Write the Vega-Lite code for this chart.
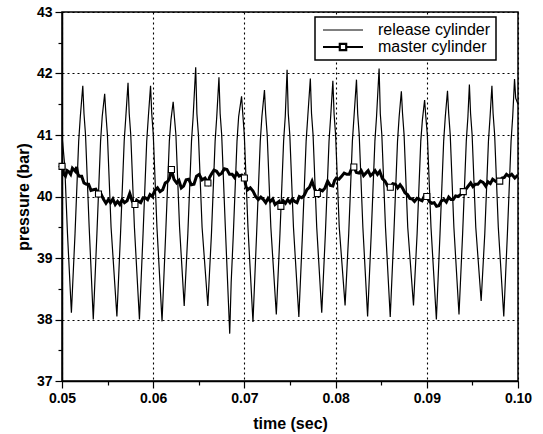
{
  "$schema": "https://vega.github.io/schema/vega-lite/v6.json",
  "autosize": {"type": "none"},
  "padding": {"left": 62, "top": 12, "right": 25, "bottom": 53},
  "width": 456,
  "height": 369,
  "background": "white",
  "config": {
    "view": {"stroke": "black", "strokeWidth": 1.5},
    "font": "Liberation Sans",
    "axis": {
      "domainColor": "black", "domainWidth": 1.5,
      "tickColor": "black", "tickWidth": 1.2,
      "labelFont": "Liberation Sans", "labelFontWeight": "bold", "labelFontSize": 14, "labelColor": "black",
      "titleFont": "Liberation Sans", "titleFontWeight": "bold", "titleFontSize": 16, "titleColor": "black",
      "gridColor": "black", "gridDash": [2, 3], "gridWidth": 1.1
    }
  },
  "datasets": {
    "rel": [
      {"t":0.05,"p":41.0},{"t":0.0503,"p":40.5},{"t":0.0506,"p":39.4},{"t":0.05103,"p":38.11},
      {"t":0.05143,"p":39.4},{"t":0.05183,"p":40.9},{"t":0.05201,"p":41.3},{"t":0.05228,"p":41.8},{"t":0.05241,"p":41.35},{"t":0.05258,"p":41.0},{"t":0.05298,"p":39.5},{"t":0.05343,"p":38.0},
      {"t":0.05383,"p":39.4},{"t":0.05423,"p":40.9},{"t":0.05441,"p":41.3},{"t":0.05468,"p":41.67},{"t":0.05481,"p":41.35},{"t":0.05498,"p":41.0},{"t":0.05538,"p":39.5},{"t":0.05602,"p":38.05},
      {"t":0.05642,"p":39.4},{"t":0.05682,"p":40.9},{"t":0.057,"p":41.3},{"t":0.05724,"p":41.85},{"t":0.05737,"p":41.35},{"t":0.05754,"p":41.0},{"t":0.05794,"p":39.5},{"t":0.05849,"p":38.0},
      {"t":0.05889,"p":39.4},{"t":0.05929,"p":40.9},{"t":0.05947,"p":41.3},{"t":0.05971,"p":41.8},{"t":0.05984,"p":41.35},{"t":0.06001,"p":41.0},{"t":0.06041,"p":39.5},{"t":0.06097,"p":37.97},
      {"t":0.06137,"p":39.4},{"t":0.06177,"p":40.9},{"t":0.06195,"p":41.25},{"t":0.06219,"p":41.54},{"t":0.06232,"p":41.3},{"t":0.06249,"p":41.0},{"t":0.06289,"p":39.5},{"t":0.0634,"p":38.22},
      {"t":0.0638,"p":39.4},{"t":0.0642,"p":40.9},{"t":0.06438,"p":41.3},{"t":0.06466,"p":42.1},{"t":0.06479,"p":41.35},{"t":0.06496,"p":41.0},{"t":0.06536,"p":39.5},{"t":0.06599,"p":38.22},
      {"t":0.06639,"p":39.4},{"t":0.06679,"p":40.9},{"t":0.06697,"p":41.3},{"t":0.06721,"p":41.94},{"t":0.06734,"p":41.35},{"t":0.06751,"p":41.0},{"t":0.06791,"p":39.5},{"t":0.06839,"p":37.77},
      {"t":0.06855,"p":38.6},{"t":0.06879,"p":39.4},{"t":0.06919,"p":40.9},{"t":0.06937,"p":41.3},{"t":0.06969,"p":41.63},{"t":0.06982,"p":41.35},{"t":0.06999,"p":41.0},{"t":0.07039,"p":39.5},{"t":0.07094,"p":37.96},
      {"t":0.07134,"p":39.4},{"t":0.07174,"p":40.9},{"t":0.07192,"p":41.3},{"t":0.0722,"p":41.73},{"t":0.07233,"p":41.35},{"t":0.0725,"p":41.0},{"t":0.0729,"p":39.5},{"t":0.0735,"p":38.08},
      {"t":0.0739,"p":39.4},{"t":0.0743,"p":40.9},{"t":0.07448,"p":41.3},{"t":0.07468,"p":42.06},{"t":0.07481,"p":41.35},{"t":0.07498,"p":41.0},{"t":0.07538,"p":39.5},{"t":0.07597,"p":38.04},
      {"t":0.07637,"p":39.4},{"t":0.07677,"p":40.9},{"t":0.07695,"p":41.3},{"t":0.07723,"p":41.92},{"t":0.07736,"p":41.35},{"t":0.07753,"p":41.0},{"t":0.07793,"p":39.5},{"t":0.07848,"p":38.11},
      {"t":0.07888,"p":39.4},{"t":0.07928,"p":40.9},{"t":0.07946,"p":41.3},{"t":0.0797,"p":41.88},{"t":0.07983,"p":41.35},{"t":0.08,"p":41.0},{"t":0.0804,"p":39.5},{"t":0.08104,"p":38.23},
      {"t":0.08144,"p":39.4},{"t":0.08184,"p":40.9},{"t":0.08202,"p":41.3},{"t":0.08229,"p":41.9},{"t":0.08242,"p":41.35},{"t":0.08259,"p":41.0},{"t":0.08299,"p":39.5},{"t":0.08351,"p":38.05},
      {"t":0.08391,"p":39.4},{"t":0.08431,"p":40.9},{"t":0.08449,"p":41.3},{"t":0.08477,"p":42.08},{"t":0.0849,"p":41.35},{"t":0.08507,"p":41.0},{"t":0.08547,"p":39.5},{"t":0.08599,"p":38.04},
      {"t":0.08639,"p":39.4},{"t":0.08679,"p":40.9},{"t":0.08697,"p":41.3},{"t":0.08721,"p":41.71},{"t":0.08734,"p":41.35},{"t":0.08751,"p":41.0},{"t":0.08791,"p":39.5},{"t":0.08854,"p":38.23},
      {"t":0.08894,"p":39.4},{"t":0.08934,"p":40.9},{"t":0.08952,"p":41.25},{"t":0.08976,"p":41.57},{"t":0.08989,"p":41.3},{"t":0.09006,"p":41.0},{"t":0.09046,"p":39.5},{"t":0.09105,"p":38.0},
      {"t":0.09145,"p":39.4},{"t":0.09185,"p":40.9},{"t":0.09203,"p":41.3},{"t":0.09227,"p":41.72},{"t":0.0924,"p":41.35},{"t":0.09257,"p":41.0},{"t":0.09297,"p":39.5},{"t":0.09353,"p":38.08},
      {"t":0.09393,"p":39.4},{"t":0.09433,"p":40.9},{"t":0.09451,"p":41.3},{"t":0.09467,"p":41.82},{"t":0.0948,"p":41.35},{"t":0.09497,"p":41.0},{"t":0.09537,"p":39.5},{"t":0.09596,"p":38.3},
      {"t":0.09636,"p":39.4},{"t":0.09676,"p":40.9},{"t":0.09694,"p":41.3},{"t":0.09714,"p":41.8},{"t":0.09727,"p":41.35},{"t":0.09744,"p":41.0},{"t":0.09784,"p":39.5},{"t":0.09844,"p":38.05},
      {"t":0.09884,"p":39.4},{"t":0.09924,"p":40.9},{"t":0.09942,"p":41.3},{"t":0.09962,"p":41.91},{"t":0.09975,"p":41.6},{"t":0.1,"p":41.5}
    ],
    "mas": [
      {"t":0.05,"p":40.49,"m":true},{"t":0.05019,"p":40.36},{"t":0.05038,"p":40.33},{"t":0.05057,"p":40.42},{"t":0.05076,"p":40.4},{"t":0.05095,"p":40.36},{"t":0.05114,"p":40.46},{"t":0.05133,"p":40.43},{"t":0.05146,"p":40.41},{"t":0.0516,"p":40.48},{"t":0.05175,"p":40.36},{"t":0.0519,"p":40.33},
      {"t":0.05216,"p":40.33},{"t":0.05241,"p":40.22},{"t":0.05267,"p":40.2},{"t":0.05292,"p":40.2},{"t":0.05318,"p":40.1},{"t":0.05343,"p":40.11},{"t":0.05371,"p":40.12},{"t":0.054,"p":40.04,"m":true},{"t":0.05428,"p":40.04},{"t":0.05457,"p":39.95},
      {"t":0.05482,"p":39.89},{"t":0.05508,"p":39.95},{"t":0.05533,"p":39.9},{"t":0.05558,"p":39.96},{"t":0.05584,"p":39.87},{"t":0.05609,"p":39.92},{"t":0.05634,"p":39.87},{"t":0.0566,"p":39.95},{"t":0.05685,"p":39.9},{"t":0.05714,"p":39.93},{"t":0.05743,"p":40.05},{"t":0.05771,"p":39.92},
      {"t":0.058,"p":39.87,"m":true},{"t":0.05819,"p":39.94},{"t":0.05838,"p":39.92},{"t":0.05863,"p":39.9},{"t":0.05889,"p":39.98},{"t":0.05914,"p":39.98},{"t":0.05939,"p":39.95},{"t":0.05965,"p":40.03},{"t":0.0599,"p":40.0},{"t":0.06018,"p":40.1},{"t":0.06047,"p":40.14},{"t":0.06075,"p":40.08},
      {"t":0.06104,"p":40.11},{"t":0.06132,"p":40.22},{"t":0.06161,"p":40.25},{"t":0.0618,"p":40.3},{"t":0.062,"p":40.44,"m":true},{"t":0.06228,"p":40.28},{"t":0.06257,"p":40.22},{"t":0.06282,"p":40.26},{"t":0.06308,"p":40.14},{"t":0.06333,"p":40.17},{"t":0.06361,"p":40.27},{"t":0.0639,"p":40.28},
      {"t":0.06418,"p":40.19},{"t":0.06447,"p":40.2},{"t":0.06475,"p":40.33},{"t":0.06504,"p":40.36},{"t":0.06536,"p":40.27},{"t":0.06568,"p":40.3},{"t":0.066,"p":40.22,"m":true},{"t":0.06618,"p":40.31},{"t":0.06637,"p":40.36},{"t":0.06666,"p":40.43},{"t":0.06695,"p":40.41},{"t":0.06723,"p":40.35},
      {"t":0.06752,"p":40.38},{"t":0.0678,"p":40.45},{"t":0.06809,"p":40.44},{"t":0.06837,"p":40.36},{"t":0.06866,"p":40.36},{"t":0.06891,"p":40.31},{"t":0.06917,"p":40.38},{"t":0.06942,"p":40.33},{"t":0.06971,"p":40.35},{"t":0.07,"p":40.3,"m":true},{"t":0.07018,"p":40.16},{"t":0.07037,"p":40.11},
      {"t":0.07065,"p":40.14},{"t":0.07094,"p":40.09},{"t":0.07123,"p":40.0},{"t":0.07152,"p":39.95},{"t":0.0718,"p":39.99},{"t":0.07209,"p":39.95},{"t":0.07234,"p":39.9},{"t":0.0726,"p":39.97},{"t":0.07285,"p":39.92},{"t":0.0731,"p":39.96},{"t":0.07336,"p":39.87},{"t":0.07361,"p":39.9},
      {"t":0.0738,"p":39.92},{"t":0.074,"p":39.84,"m":true},{"t":0.07425,"p":39.93},{"t":0.0745,"p":39.89},{"t":0.07475,"p":39.95},{"t":0.075,"p":39.9},{"t":0.07526,"p":39.96},{"t":0.07551,"p":39.92},{"t":0.07577,"p":39.9},{"t":0.07602,"p":40.0},{"t":0.07628,"p":39.98},{"t":0.07656,"p":40.02},
      {"t":0.07685,"p":40.11},{"t":0.07713,"p":40.15},{"t":0.07742,"p":40.25},{"t":0.07771,"p":40.12},{"t":0.078,"p":40.05,"m":true},{"t":0.07828,"p":40.11},{"t":0.07856,"p":40.09},{"t":0.07884,"p":40.14},{"t":0.07913,"p":40.25},{"t":0.07941,"p":40.18},{"t":0.0797,"p":40.17},{"t":0.07989,"p":40.26},
      {"t":0.08008,"p":40.3},{"t":0.08037,"p":40.28},{"t":0.08066,"p":40.33},{"t":0.08094,"p":40.38},{"t":0.08123,"p":40.36},{"t":0.08149,"p":40.36},{"t":0.08174,"p":40.45},{"t":0.082,"p":40.48,"m":true},{"t":0.08228,"p":40.39},{"t":0.08256,"p":40.38},{"t":0.08281,"p":40.42},{"t":0.08307,"p":40.34},
      {"t":0.08332,"p":40.38},{"t":0.08357,"p":40.42},{"t":0.08383,"p":40.34},{"t":0.08408,"p":40.37},{"t":0.08433,"p":40.42},{"t":0.08459,"p":40.36},{"t":0.08484,"p":40.41},{"t":0.08513,"p":40.29},{"t":0.08542,"p":40.25},{"t":0.08571,"p":40.17},{"t":0.086,"p":40.15,"m":true},{"t":0.08628,"p":40.21},
      {"t":0.08656,"p":40.2},{"t":0.08681,"p":40.14},{"t":0.08707,"p":40.19},{"t":0.08732,"p":40.14},{"t":0.0876,"p":40.06},{"t":0.08789,"p":40.03},{"t":0.08814,"p":39.97},{"t":0.0884,"p":39.96},{"t":0.08865,"p":39.92},{"t":0.08893,"p":39.97},{"t":0.08922,"p":39.95},{"t":0.08948,"p":39.93},
      {"t":0.08974,"p":40.01},{"t":0.09,"p":40.0,"m":true},{"t":0.09028,"p":39.92},{"t":0.09056,"p":39.89},{"t":0.09081,"p":39.9},{"t":0.09107,"p":39.84},{"t":0.09132,"p":39.85},{"t":0.0916,"p":39.93},{"t":0.09189,"p":39.95},{"t":0.09214,"p":39.91},{"t":0.0924,"p":39.99},{"t":0.09265,"p":39.95},
      {"t":0.0929,"p":39.95},{"t":0.09316,"p":40.01},{"t":0.09341,"p":40.0},{"t":0.0937,"p":40.03},{"t":0.094,"p":40.08,"m":true},{"t":0.09428,"p":40.12},{"t":0.09455,"p":40.17},{"t":0.09481,"p":40.22},{"t":0.09506,"p":40.16},{"t":0.09532,"p":40.2},{"t":0.0956,"p":40.2},{"t":0.09589,"p":40.25},
      {"t":0.09617,"p":40.23},{"t":0.09646,"p":40.17},{"t":0.09671,"p":40.24},{"t":0.09697,"p":40.21},{"t":0.09722,"p":40.28},{"t":0.09761,"p":40.24},{"t":0.098,"p":40.25,"m":true},{"t":0.09825,"p":40.3},{"t":0.0985,"p":40.31},{"t":0.09874,"p":40.36},{"t":0.09902,"p":40.33},{"t":0.09931,"p":40.36},
      {"t":0.09965,"p":40.3},{"t":0.1,"p":40.35}
    ]
  },
  "encoding": {
    "x": {
      "field": "t", "type": "quantitative",
      "scale": {"domain": [0.05, 0.1], "nice": false, "zero": false},
      "axis": {
        "title": "time (sec)", "titlePadding": 10,
        "values": [0.05,0.055,0.06,0.065,0.07,0.075,0.08,0.085,0.09,0.095,0.1],
        "labelExpr": "round(datum.value*1000) % 10 != 0 ? '' : format(datum.value, '.2f')",
        "labelPadding": 3, "labelFlush": false,
        "tickSize": {"condition": {"test": "round(datum.value*1000) % 10 != 0", "value": 4}, "value": 7},
        "gridOpacity": {"condition": {"test": "round(datum.value*1000) % 10 != 0", "value": 0}, "value": 1},
        "grid": true
      }
    },
    "y": {
      "field": "p", "type": "quantitative",
      "scale": {"domain": [37, 43], "nice": false, "zero": false},
      "axis": {
        "title": "pressure (bar)", "titlePadding": 5,
        "values": [37,37.5,38,38.5,39,39.5,40,40.5,41,41.5,42,42.5,43],
        "labelExpr": "datum.value % 1 != 0 ? '' : format(datum.value, 'd')",
        "labelPadding": 3,
        "tickSize": {"condition": {"test": "datum.value % 1 != 0", "value": 4}, "value": 7},
        "gridOpacity": {"condition": {"test": "datum.value % 1 != 0", "value": 0}, "value": 1},
        "grid": true
      }
    }
  },
  "layer": [
    {
      "data": {"name": "rel"},
      "mark": {"type": "line", "strokeWidth": 1.2, "clip": true},
      "encoding": {
        "color": {
          "datum": "release cylinder",
          "scale": {"domain": ["release cylinder", "master cylinder"], "range": ["black", "black"]},
          "legend": {
            "title": null, "orient": "none", "legendX": 253, "legendY": 5,
            "direction": "vertical",
            "fillColor": "white", "strokeColor": "black", "padding": 5,
            "symbolSize": 400, "symbolOffset": 15, "labelOffset": 27, "rowPadding": 1,
            "labelFont": "Liberation Sans", "labelFontSize": 16, "labelColor": "black",
            "encode": {
              "legend": {"update": {"strokeWidth": {"value": 1.5}}},
              "symbols": {"update": {
                "shape": {"signal": "datum.value === 'master cylinder' ? 'M-2,0H-0.32M0.32,0H2M-0.32,-0.32H0.32V0.32H-0.32Z' : 'M-2,0H2'"},
                "strokeWidth": {"signal": "datum.value === 'master cylinder' ? 2.2 : 1"},
                "stroke": {"value": "black"},
                "fill": {"value": "white"},
                "opacity": {"value": 1}
              }}
            }
          }
        }
      }
    },
    {
      "data": {"name": "mas"},
      "mark": {"type": "line", "strokeWidth": 3, "clip": true},
      "encoding": {"color": {"datum": "master cylinder"}}
    },
    {
      "data": {"name": "mas"},
      "transform": [{"filter": "datum.m"}],
      "mark": {"type": "point", "shape": "square", "size": 36, "fill": "white", "filled": false, "opacity": 1, "strokeWidth": 1.1},
      "encoding": {"color": {"datum": "master cylinder"}}
    }
  ]
}
